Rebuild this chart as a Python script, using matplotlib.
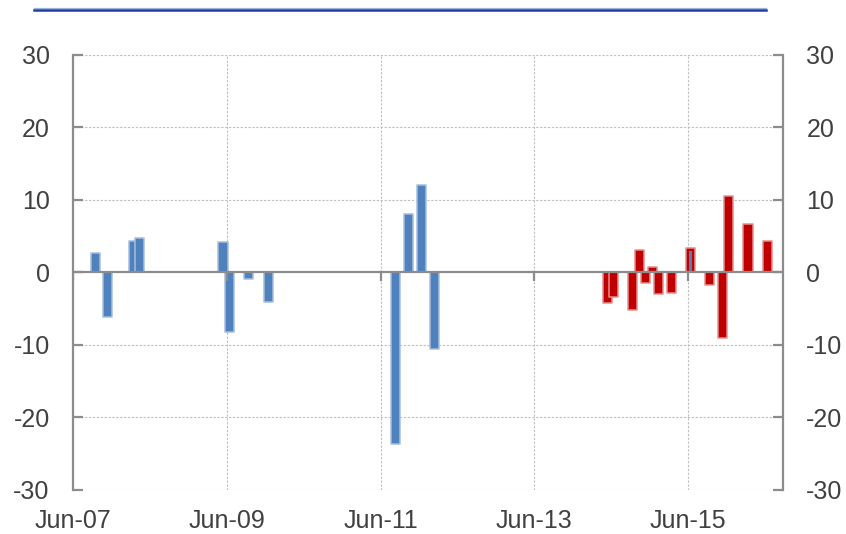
import matplotlib
matplotlib.use("Agg")
import matplotlib.pyplot as plt
import matplotlib.dates as mdates
from matplotlib.lines import Line2D
import pandas as pd

plt.rcParams['font.family'] = ['Liberation Sans', 'DejaVu Sans']
plt.rcParams['axes.unicode_minus'] = False

blue_dates = ["2007-09-13", "2007-11-13", "2008-03-13", "2008-04-13", "2009-05-13", "2009-06-13",
              "2009-09-13", "2009-12-13", "2011-08-13", "2011-10-13", "2011-12-13", "2012-02-13"]
blue_values = [2.7, -6.1, 4.35, 4.8, 4.2, -8.25, -0.95, -4.1, -23.6, 8.1, 12.1, -10.6]

red_dates = ["2014-05-13", "2014-06-13", "2014-09-13", "2014-10-13", "2014-11-13", "2014-12-13",
             "2015-01-13", "2015-03-13", "2015-06-13", "2015-09-13", "2015-11-13", "2015-12-13",
             "2016-03-13", "2016-06-13"]
red_values = [-4.2, -3.4, -5.2, 3.1, -1.5, 0.7, -3.0, -2.8, 3.3, -1.8, -9.1, 10.5, 6.7, 4.3]

thin_dates = ["2015-06-13"]
thin_values = [2.9]

tick_dates = ["2007-06-01", "2009-06-01", "2011-06-01", "2013-06-01", "2015-06-01"]
tick_labels = ["Jun-07", "Jun-09", "Jun-11", "Jun-13", "Jun-15"]
y_ticks = [-30, -20, -10, 0, 10, 20, 30]

BLUE = "#4F81BD"
RED = "#C00000"
GRAY = "#8C8C8C"
TXT = "#404040"

fig = plt.figure(figsize=(8.46, 5.34), dpi=100)
ax = fig.add_axes([0.0866, 0.0824, 0.9252 - 0.0866, 0.8976 - 0.0824])

bd = mdates.date2num(pd.to_datetime(blue_dates))
rd = mdates.date2num(pd.to_datetime(red_dates))
td = mdates.date2num(pd.to_datetime(thin_dates))
tk = mdates.date2num(pd.to_datetime(tick_dates))

x0 = mdates.date2num(pd.Timestamp("2007-06-01"))
x1 = mdates.date2num(pd.Timestamp("2016-08-25"))

# grid
for t in tk[1:]:
    ax.plot([t, t], [-30, 30], color="#BFBFBF", lw=0.8, ls=(0, (2, 1.5)), zorder=0)
for y in y_ticks:
    if y != 0:
        ax.plot([x0, x1], [y, y], color="#BFBFBF", lw=0.8, ls=(0, (2, 1.5)), zorder=0)

w = 43
bb = ax.bar(bd, blue_values, width=w, color=BLUE, edgecolor="#A7BEDD", linewidth=1.1, zorder=3)
rb = ax.bar(rd, red_values, width=w, color=RED, edgecolor="#E39090", linewidth=1.1, zorder=3)
for p in list(bb) + list(rb):
    p.set_joinstyle('round')
ax.bar(td, thin_values, width=12, color=BLUE, edgecolor="none", zorder=4)

# zero line and its ticks
ax.plot([x0, x1], [0, 0], color=GRAY, lw=1.6, zorder=5)
for t in tk:
    ax.plot([t, t], [0, -1.0], color=GRAY, lw=1.6, zorder=5)

ax.set_xlim(x0, x1)
ax.set_ylim(-30, 30)
ax.set_xticks(tk)
ax.set_xticklabels(tick_labels)
ax.tick_params(axis='x', length=0, pad=14, labelsize=18, labelcolor=TXT)
ax.set_yticks(y_ticks)
ax.tick_params(axis='y', direction='in', length=7, width=1.6, color=GRAY, pad=17,
               labelsize=18, labelcolor=TXT, left=True, right=True, labelleft=True, labelright=True)

for s in ['top', 'bottom']:
    ax.spines[s].set_visible(False)
for s in ['left', 'right']:
    ax.spines[s].set_color(GRAY)
    ax.spines[s].set_linewidth(1.6)

# title rule
fig.add_artist(Line2D([34 / 846, 766 / 846], [1 - 8.3 / 534, 1 - 8.3 / 534], color="#9DB2E0", lw=0.9))
fig.add_artist(Line2D([34 / 846, 766 / 846], [1 - 10 / 534, 1 - 10 / 534], color="#1F3F99", lw=1.8))

fig.savefig("out.png", dpi=100)
